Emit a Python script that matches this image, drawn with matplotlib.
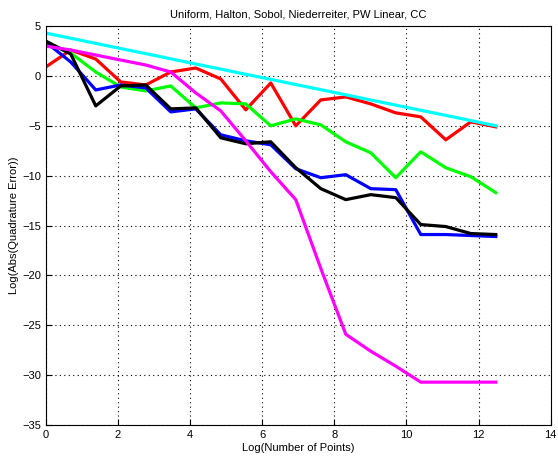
import numpy as np
import matplotlib
matplotlib.use("Agg")
import matplotlib.pyplot as plt

# x = log(2^k), k = 0..18
log_n = [0.0, 0.693, 1.386, 2.079, 2.773, 3.466, 4.159, 4.852, 5.545, 6.238,
         6.931, 7.625, 8.318, 9.011, 9.704, 10.397, 11.090, 11.784, 12.477]

uniform = [0.9, 2.6, 1.7, -0.6, -0.9, 0.4, 0.8, -0.3, -3.4, -0.7,
           -5.0, -2.4, -2.1, -2.8, -3.7, -4.1, -6.4, -4.6, -5.1]
halton = [3.4, 2.3, 0.4, -1.1, -1.5, -1.0, -3.2, -2.7, -2.8, -5.0,
          -4.3, -4.9, -6.6, -7.7, -10.2, -7.6, -9.2, -10.1, -11.7]
sobol = [3.4, 1.4, -1.4, -0.9, -1.2, -3.6, -3.3, -5.9, -6.5, -6.9,
         -9.3, -10.2, -9.9, -11.3, -11.4, -15.9, -15.9, -16.0, -16.1]
niederreiter = [3.5, 2.2, -3.0, -1.0, -0.9, -3.3, -3.2, -6.2, -6.8, -6.6,
                -9.2, -11.3, -12.4, -11.9, -12.2, -14.9, -15.1, -15.8, -15.9]
pw_linear = [3.0, 2.6, 2.1, 1.6, 1.1, 0.4, -1.7, -3.5, -6.5, -9.6,
             -12.4, -19.3, -25.9, -27.6, -29.1, -30.7, -30.7, -30.7, -30.7]
cc = [4.3, 3.78, 3.27, 2.75, 2.24, 1.72, 1.2, 0.69, 0.17, -0.34,
      -0.86, -1.37, -1.89, -2.41, -2.92, -3.44, -3.95, -4.47, -4.99]

plt.rcParams['font.family'] = ['Liberation Sans', 'DejaVu Sans']
plt.rcParams['font.size'] = 8

fig = plt.figure(figsize=(5.58, 4.58), dpi=100)
ax = fig.add_axes([0.082, 0.072, 0.905, 0.871])

lw = 2.3
ax.plot(log_n, uniform, color='#ff0000', lw=lw)
ax.plot(log_n, halton, color='#00ff00', lw=lw)
ax.plot(log_n, sobol, color='#0000ff', lw=lw)
ax.plot(log_n, niederreiter, color='#000000', lw=lw)
ax.plot(log_n, pw_linear, color='#ff00ff', lw=lw)
ax.plot(log_n, cc, color='#00ffff', lw=lw)

ax.set_xlim(0, 14)
ax.set_ylim(-35, 5)
ax.set_xticks(np.arange(0, 15, 2))
ax.set_yticks(np.arange(-35, 6, 5))
ax.tick_params(direction='in', length=4, width=0.8, colors='black')
ax.grid(True, linestyle=(0, (1, 3)), color='black', linewidth=0.8)
for s in ax.spines.values():
    s.set_linewidth(0.8)

ax.set_title('Uniform, Halton, Sobol, Niederreiter, PW Linear, CC', fontsize=8, pad=6)
ax.set_xlabel('Log(Number of Points)', fontsize=8, labelpad=2)
ax.set_ylabel('Log(Abs(Quadrature Error))', fontsize=8, labelpad=2)

fig.savefig('out.png', dpi=100)
